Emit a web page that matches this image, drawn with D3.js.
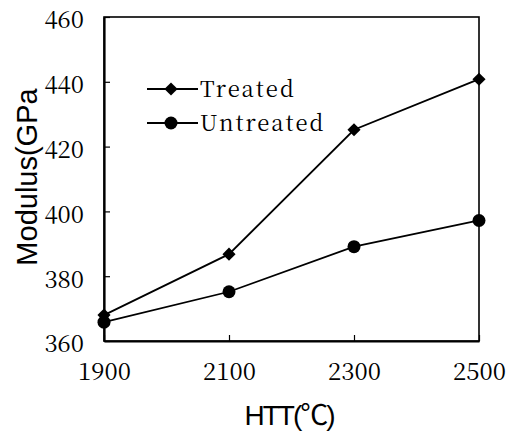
<!DOCTYPE html>
<html>
<head>
<meta charset="utf-8">
<script src="https://cdn.jsdelivr.net/npm/d3@7"></script>
<style>
  body { margin: 0; background: #fff; }
  svg { display: block; }
</style>
</head>
<body>
<div id="chart"></div>
<script>
var temps = [1900, 2100, 2300, 2500];
var treated = [368, 386.8, 425.2, 440.8];
var untreated = [365.8, 375.2, 389.1, 397.2];
var xTicks = [1900, 2100, 2300, 2500];
var yTicks = [360, 380, 400, 420, 440, 460];

var W = 507, H = 434;
var margin = {top: 17, right: 28, bottom: 93, left: 104},
    width = W - margin.left - margin.right,
    height = H - margin.top - margin.bottom;

var serif = "'Noto Serif CJK SC', 'Liberation Serif', serif";

var svg = d3.select("#chart").append("svg")
    .attr("width", W)
    .attr("height", H);

var x = d3.scaleLinear().domain([1900, 2500]).range([0, width]);
var y = d3.scaleLinear().domain([360, 460]).range([height, 0]);

var g = svg.append("g")
    .attr("transform", "translate(" + margin.left + "," + margin.top + ")");

// frame
g.append("rect")
    .attr("width", width)
    .attr("height", height)
    .attr("fill", "none")
    .attr("stroke", "#000")
    .attr("stroke-width", 1.6);

// y axis (ticks point inward)
var yAxis = g.append("g")
    .call(d3.axisLeft(y).tickValues(yTicks).tickSizeInner(-6).tickSizeOuter(0).tickPadding(20))
    .attr("font-family", serif)
    .attr("font-size", 24);
yAxis.select(".domain").attr("stroke-width", 2.2);
yAxis.selectAll("line").attr("stroke-width", 1.2);
yAxis.selectAll("text").attr("fill", "#000").attr("dy", "0.45em");

// x axis
var xAxis = g.append("g")
    .attr("transform", "translate(0," + height + ")")
    .call(d3.axisBottom(x).tickValues(xTicks).tickFormat(d3.format("d")).tickSizeInner(-6).tickSizeOuter(0).tickPadding(22))
    .attr("font-family", serif)
    .attr("font-size", 24);
xAxis.select(".domain").attr("stroke-width", 2.2);
xAxis.selectAll("line").attr("stroke-width", 1.2);
xAxis.selectAll("text").attr("fill", "#000");

// series
var line = d3.line()
    .x(function(d, i) { return x(temps[i]); })
    .y(function(d) { return y(d); });

g.append("path").datum(treated)
    .attr("d", line).attr("fill", "none").attr("stroke", "#000").attr("stroke-width", 1.8);
g.append("path").datum(untreated)
    .attr("d", line).attr("fill", "none").attr("stroke", "#000").attr("stroke-width", 1.8);

var diamond = d3.symbol().type(d3.symbolDiamond2).size(110);

g.selectAll(".tr").data(treated).enter().append("path")
    .attr("class", "tr")
    .attr("transform", function(d, i) { return "translate(" + x(temps[i]) + "," + y(d) + ")"; })
    .attr("d", diamond)
    .attr("fill", "#000");

g.selectAll(".un").data(untreated).enter().append("circle")
    .attr("class", "un")
    .attr("cx", function(d, i) { return x(temps[i]); })
    .attr("cy", function(d) { return y(d); })
    .attr("r", 6.5)
    .attr("fill", "#000");

// legend
var legend = svg.append("g").attr("transform", "translate(147,89)");
var items = [{label: "Treated", shape: "diamond"}, {label: "Untreated", shape: "circle"}];
items.forEach(function(it, i) {
  var row = legend.append("g").attr("transform", "translate(0," + (i * 34) + ")");
  row.append("line").attr("x1", 0).attr("x2", 51).attr("stroke", "#000").attr("stroke-width", 1.8);
  if (it.shape === "diamond") {
    row.append("path").attr("transform", "translate(24,0)").attr("d", diamond).attr("fill", "#000");
  } else {
    row.append("circle").attr("cx", 24).attr("r", 6.5).attr("fill", "#000");
  }
  row.append("text")
      .attr("x", 53).attr("y", 8)
      .style("font-family", serif)
      .style("font-size", "22px")
      .style("letter-spacing", "2px")
      .text(it.label);
});

// axis titles
svg.append("text")
    .attr("transform", "translate(37," + (margin.top + height / 2 - 2) + ") rotate(-90)")
    .attr("text-anchor", "middle")
    .style("font-family", "'Liberation Sans', Arial, sans-serif")
    .style("font-size", "29px")
    .text("Modulus(GPa");

svg.append("text")
    .attr("x", 289).attr("y", 425)
    .attr("text-anchor", "middle")
    .style("font-family", "'Liberation Sans', Arial, 'Noto Sans CJK SC', sans-serif")
    .style("font-size", "28px")
    .style("letter-spacing", "-2px")
    .text("HTT(℃)");
</script>
</body>
</html>
